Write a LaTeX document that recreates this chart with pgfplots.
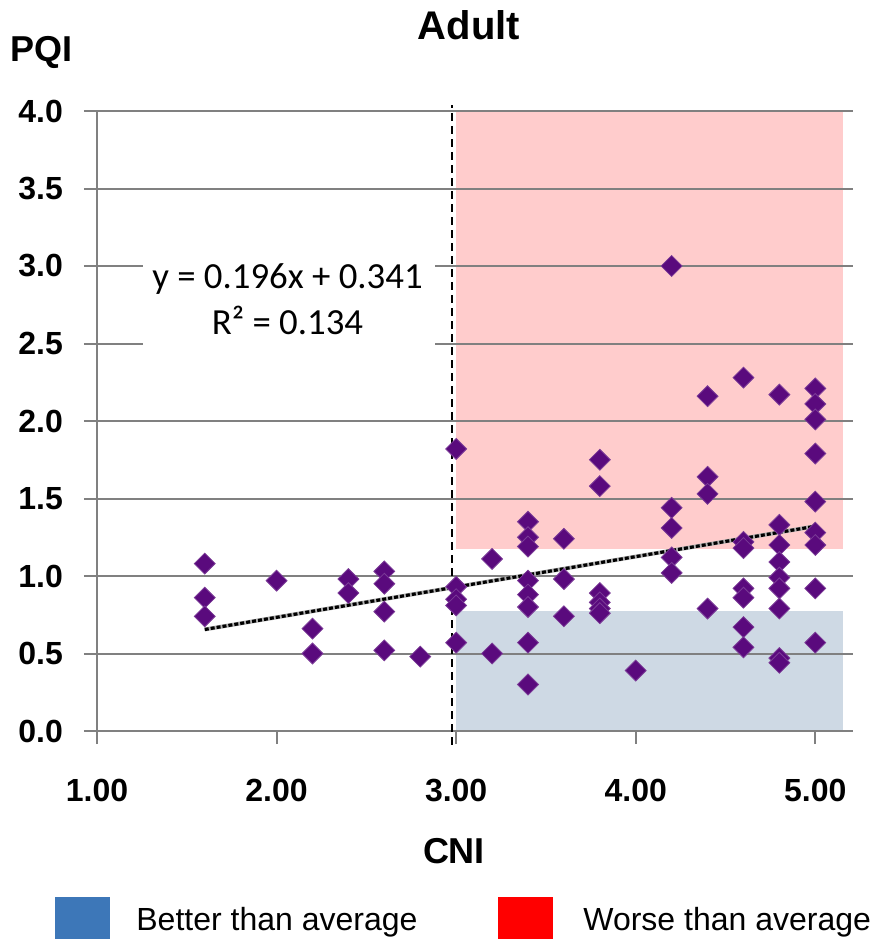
\documentclass[border=0pt]{standalone}
\usepackage{fontspec}
\setmainfont{Liberation Sans}
\newfontfamily\calibri{Carlito}
\usepackage{pgfplots}
\pgfplotsset{compat=1.18}
\usetikzlibrary{calc}

\definecolor{dotpurple}{RGB}{90,10,125}
\definecolor{worsebg}{RGB}{255,204,204}
\definecolor{betterbg}{RGB}{206,217,228}
\definecolor{betterkey}{RGB}{61,119,184}
\definecolor{gridgray}{RGB}{128,128,128}

\begin{document}
\begin{tikzpicture}
\begin{axis}[
    name=ax,
    set layers,
    scale only axis,
    width=378pt, height=310pt,
    xmin=1, xmax=5.21, ymin=0, ymax=4,
    clip=false,
    axis x line=bottom, axis y line=left,
    axis line style={-, gridgray, line width=1pt},
    xtick={1,2,3,4,5},
    xticklabels={1.00,2.00,3.00,4.00,5.00},
    ytick={0,0.5,1,1.5,2,2.5,3,3.5,4},
    yticklabels={0.0,0.5,1.0,1.5,2.0,2.5,3.0,3.5,4.0},
    ymajorgrids,
    major grid style={gridgray, line width=1pt},
    tick align=outside,
    major tick length=6.5pt,
    tick style={gridgray, line width=1pt},
    ticklabel style={font=\fontsize{16}{18}\selectfont\bfseries},
    xticklabel style={yshift=-14pt},
    yticklabel style={xshift=-7pt},
  ]
  % shaded zones
  \addplot[fill=worsebg, draw=none, on layer=axis background]
    coordinates {(3.0,1.174) (5.156,1.174) (5.156,4.0) (3.0,4.0)} -- cycle;
  \addplot[fill=betterbg, draw=none, on layer=axis background]
    coordinates {(3.0,0) (5.156,0) (5.156,0.774) (3.0,0.774)} -- cycle;
  % average CNI
  \addplot[black, line width=1pt, dash pattern=on 4pt off 2.5pt]
    coordinates {(2.975,-0.09) (2.975,4.04)};
  % data
  \addplot[only marks, mark=square*, mark size=3.7pt,
           mark options={rotate=45, fill=dotpurple, draw=dotpurple!80!white}]
    coordinates {
    (1.6,1.08) (1.6,0.86) (1.6,0.74)
    (2.0,0.97)
    (2.2,0.66) (2.2,0.50)
    (2.4,0.98) (2.4,0.89)
    (2.6,1.03) (2.6,0.95) (2.6,0.77) (2.6,0.52)
    (2.8,0.48)
    (3.0,1.82) (3.0,0.93) (3.0,0.85) (3.0,0.81) (3.0,0.57)
    (3.2,1.11) (3.2,0.50)
    (3.4,1.35) (3.4,1.25) (3.4,1.19) (3.4,0.97) (3.4,0.88) (3.4,0.80) (3.4,0.57) (3.4,0.30)
    (3.6,1.24) (3.6,0.98) (3.6,0.74)
    (3.8,1.75) (3.8,1.58) (3.8,0.89) (3.8,0.83) (3.8,0.79) (3.8,0.76)
    (4.0,0.39)
    (4.2,3.00) (4.2,1.44) (4.2,1.31) (4.2,1.12) (4.2,1.02)
    (4.4,2.16) (4.4,1.64) (4.4,1.53) (4.4,0.79)
    (4.6,2.28) (4.6,1.22) (4.6,1.18) (4.6,0.92) (4.6,0.86) (4.6,0.67) (4.6,0.54)
    (4.8,2.17) (4.8,1.33) (4.8,1.20) (4.8,1.09) (4.8,0.99) (4.8,0.92) (4.8,0.79) (4.8,0.47) (4.8,0.44)
    (5.0,2.21) (5.0,2.11) (5.0,2.01) (5.0,1.79) (5.0,1.48) (5.0,1.28) (5.0,1.20) (5.0,0.92) (5.0,0.57)
    };
  % linear trend
  \addplot[gray!60, line width=2pt] coordinates {(1.6,0.655) (5.0,1.321)};
  \addplot[black, line width=1.6pt, dash pattern=on 2pt off 1pt]
    coordinates {(1.6,0.655) (5.0,1.321)};
\end{axis}

% equation box
\fill[white] ($(ax.south west)+(23pt,189.5pt)$) rectangle ($(ax.south west)+(169pt,236.5pt)$);
\node[anchor=base, inner sep=0, font=\calibri\fontsize{18.4}{22}\selectfont]
  at ($(ax.south west)+(95.25pt,221pt)$) {y = 0.196x + 0.341};
\node[anchor=base, inner sep=0, font=\calibri\fontsize{18.4}{22}\selectfont]
  at ($(ax.south west)+(95.25pt,198pt)$) {R² = 0.134};

% titles
\node[anchor=base, inner sep=0, font=\fontsize{20}{24}\selectfont\bfseries]
  at ($(ax.south west)+(186pt,345.5pt)$) {Adult};
\node[anchor=base, inner sep=0, font=\fontsize{18}{22}\selectfont\bfseries]
  at ($(ax.south west)+(-27.75pt,334.5pt)$) {PQI};
\node[anchor=base, inner sep=0, font=\fontsize{18}{22}\selectfont\bfseries]
  at ($(ax.south west)+(178.5pt,-66pt)$) {CNI};

% key
\fill[betterkey] ($(ax.south west)+(-21pt,-83pt)$) rectangle ($(ax.south west)+(6.5pt,-110pt)$);
\fill[red] ($(ax.south west)+(200.5pt,-83pt)$) rectangle ($(ax.south west)+(228pt,-110pt)$);
\node[anchor=base west, inner sep=0, font=\fontsize{16}{19}\selectfont]
  at ($(ax.south west)+(19.5pt,-99.5pt)$) {Better than average};
\node[anchor=base west, inner sep=0, font=\fontsize{16}{19}\selectfont]
  at ($(ax.south west)+(243pt,-99.5pt)$) {Worse than average};

\pgfresetboundingbox
\useasboundingbox ($(ax.south west)+(-48.5pt,-104pt)$) rectangle ($(ax.south west)+(387.5pt,365.5pt)$);
\end{tikzpicture}
\end{document}
